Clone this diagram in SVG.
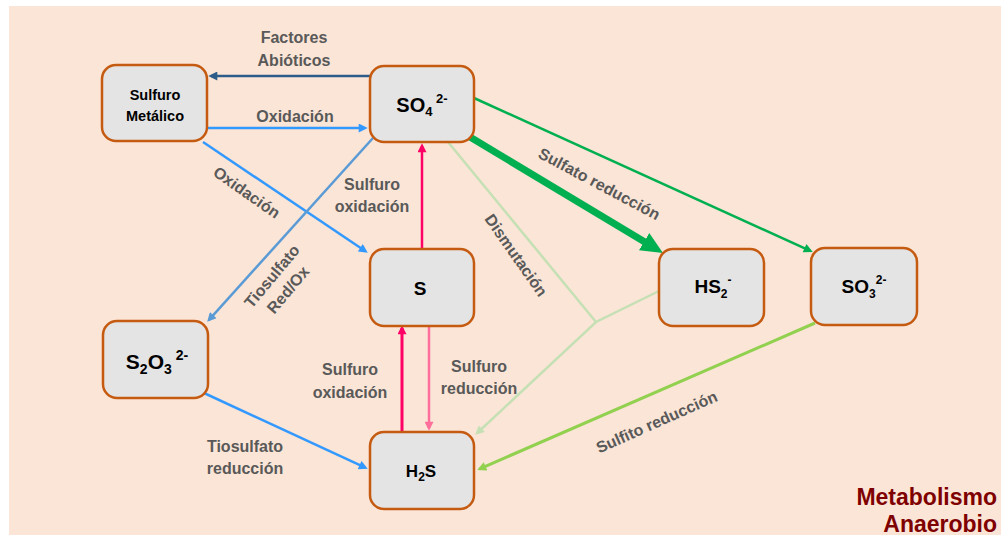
<svg xmlns="http://www.w3.org/2000/svg" width="1001" height="535" viewBox="0 0 1001 535">
  <style>
    .node rect { fill: #E4E4E4; stroke: #C55A11; stroke-width: 2.5; }
    .nt { font-family: "Liberation Sans", Arial, sans-serif; font-weight: bold; fill: #000; text-anchor: middle; }
    .lbl { font-family: "Liberation Sans", Arial, sans-serif; font-weight: bold; font-size: 16px; fill: #595959; text-anchor: middle; }
    .edge { fill: none; stroke-width: 2.5; }
    .edge.w3 { stroke-width: 3; }
    .edge.thick { stroke-width: 7; }
    .title { font-family: "Liberation Sans", Arial, sans-serif; font-weight: bold; font-size: 23px; fill: #7F0000; text-anchor: end; }
  </style>
  <defs>
    <marker id="ah-dblue" viewBox="0 0 10 10" refX="7" refY="5" markerUnits="userSpaceOnUse" markerWidth="10" markerHeight="9" orient="auto"><path d="M0,0 L10,5 L0,10 z" fill="#2E5C8A"/></marker>
    <marker id="ah-blue" viewBox="0 0 10 10" refX="7" refY="5" markerUnits="userSpaceOnUse" markerWidth="10" markerHeight="9" orient="auto"><path d="M0,0 L10,5 L0,10 z" fill="#3399FF"/></marker>
    <marker id="ah-steel" viewBox="0 0 10 10" refX="7" refY="5" markerUnits="userSpaceOnUse" markerWidth="10" markerHeight="9" orient="auto"><path d="M0,0 L10,5 L0,10 z" fill="#5B9BD5"/></marker>
    <marker id="ah-pink" viewBox="0 0 10 10" refX="7" refY="5" markerUnits="userSpaceOnUse" markerWidth="10" markerHeight="9" orient="auto"><path d="M0,0 L10,5 L0,10 z" fill="#FF0066"/></marker>
    <marker id="ah-lpink" viewBox="0 0 10 10" refX="7" refY="5" markerUnits="userSpaceOnUse" markerWidth="10" markerHeight="9" orient="auto"><path d="M0,0 L10,5 L0,10 z" fill="#FF6F9C"/></marker>
    <marker id="ah-green" viewBox="0 0 10 10" refX="7" refY="5" markerUnits="userSpaceOnUse" markerWidth="10" markerHeight="9" orient="auto"><path d="M0,0 L10,5 L0,10 z" fill="#00B050"/></marker>
    <marker id="ah-green-big" viewBox="0 0 22 20" refX="12" refY="10" markerUnits="userSpaceOnUse" markerWidth="22" markerHeight="20" orient="auto"><path d="M0,0 L22,10 L0,20 z" fill="#00B050"/></marker>
    <marker id="ah-lgreen" viewBox="0 0 10 10" refX="7" refY="5" markerUnits="userSpaceOnUse" markerWidth="10" markerHeight="9" orient="auto"><path d="M0,0 L10,5 L0,10 z" fill="#C5E0B4"/></marker>
    <marker id="ah-ygreen" viewBox="0 0 10 10" refX="7" refY="5" markerUnits="userSpaceOnUse" markerWidth="10" markerHeight="9" orient="auto"><path d="M0,0 L10,5 L0,10 z" fill="#92D050"/></marker>
  </defs>

  <!-- slide background -->
  <rect x="0" y="0" width="1001" height="535" fill="#FFFFFF"/>
  <rect x="9" y="6" width="992" height="529" fill="#FBE5D6"/>

  <!-- connectors -->
  <g id="connectors">
    <path class="edge" d="M370,76 L211,76" stroke="#2E5C8A" marker-end="url(#ah-dblue)"/>
    <path class="edge" d="M207,128 L365,128" stroke="#3399FF" marker-end="url(#ah-blue)"/>
    <path class="edge" d="M203,142 L365.5,251.3" stroke="#3399FF" marker-end="url(#ah-blue)"/>
    <path class="edge" d="M373,138 L209,319.8" stroke="#5B9BD5" marker-end="url(#ah-steel)"/>
    <path class="edge" d="M422,249 L422,146" stroke="#FF0066" marker-end="url(#ah-pink)"/>
    <path class="edge w3" d="M402,432 L402,328" stroke="#FF0066" marker-end="url(#ah-pink)"/>
    <path class="edge" d="M429,326 L429,428" stroke="#FF6F9C" marker-end="url(#ah-lpink)"/>
    <path class="edge" d="M204,393 L365.3,467.7" stroke="#3399FF" marker-end="url(#ah-blue)"/>
    <path class="edge thick" d="M470,137 L654.4,247.8" stroke="#00B050" marker-end="url(#ah-green-big)"/>
    <path class="edge" d="M474,98 L810.3,250.8" stroke="#00B050" marker-end="url(#ah-green)"/>
    <path class="edge" d="M448,142 L596,322 M659,291 L596,322 L477.2,433" stroke="#C5E0B4" marker-end="url(#ah-lgreen)"/>
    <path class="edge w3" d="M815,323 L479.7,468.8" stroke="#92D050" marker-end="url(#ah-ygreen)"/>
  </g>

  <!-- connector labels -->
  <g id="labels">
    <text class="lbl" x="294" y="43">Factores</text>
    <text class="lbl" x="294" y="66">Abióticos</text>
    <text class="lbl" x="295" y="122">Oxidación</text>
    <text class="lbl" transform="translate(247,192) rotate(35)" y="6">Oxidación</text>
    <text class="lbl" x="372" y="190">Sulfuro</text>
    <text class="lbl" x="372" y="212">oxidación</text>
    <g transform="translate(280,283) rotate(-50)">
      <text class="lbl" x="0" y="-5">Tiosulfato</text>
      <text class="lbl" x="0" y="16">Red/Ox</text>
    </g>
    <text class="lbl" transform="translate(516.5,255) rotate(55)" y="6">Dismutación</text>
    <text class="lbl" transform="translate(599.5,183.5) rotate(28)" y="6">Sulfato reducción</text>
    <text class="lbl" x="350" y="375">Sulfuro</text>
    <text class="lbl" x="350" y="398">oxidación</text>
    <text class="lbl" x="479" y="372">Sulfuro</text>
    <text class="lbl" x="479" y="394">reducción</text>
    <text class="lbl" x="245" y="452">Tiosulfato</text>
    <text class="lbl" x="245" y="474">reducción</text>
    <text class="lbl" transform="translate(656.5,421.5) rotate(-24)" y="6">Sulfito reducción</text>
  </g>

  <!-- nodes -->
  <g id="n-sulfuro-metalico" class="node">
    <rect x="102" y="65" width="105" height="76" rx="14"/>
    <text class="nt" x="155" y="100" font-size="14.5">Sulfuro</text>
    <text class="nt" x="155" y="121" font-size="14.5">Metálico</text>
  </g>
  <g id="n-so4" class="node">
    <rect x="370" y="66" width="104" height="76" rx="14"/>
    <text class="nt" x="422" y="112" font-size="20">SO<tspan font-size="13" dy="4">4</tspan><tspan font-size="13" dy="-13"> 2-</tspan></text>
  </g>
  <g id="n-s" class="node">
    <rect x="370" y="249" width="104" height="77" rx="14"/>
    <text class="nt" x="420" y="295" font-size="19">S</text>
  </g>
  <g id="n-s2o3" class="node">
    <rect x="103" y="321" width="105" height="77" rx="14"/>
    <text class="nt" x="157" y="369" font-size="21">S<tspan font-size="14" dy="5">2</tspan><tspan dy="-5">O</tspan><tspan font-size="14" dy="5">3</tspan><tspan font-size="14" dy="-14"> 2-</tspan></text>
  </g>
  <g id="n-h2s" class="node">
    <rect x="370" y="432" width="104" height="77" rx="14"/>
    <text class="nt" x="421" y="477" font-size="17">H<tspan font-size="12" dy="4">2</tspan><tspan dy="-4">S</tspan></text>
  </g>
  <g id="n-hs2" class="node">
    <rect x="659" y="249" width="105" height="77" rx="14"/>
    <text class="nt" x="713" y="293" font-size="19">HS<tspan font-size="12" dy="5">2</tspan><tspan font-size="12" dy="-14">-</tspan></text>
  </g>
  <g id="n-so3" class="node">
    <rect x="811" y="248" width="106" height="77" rx="14"/>
    <text class="nt" x="864" y="293" font-size="19">SO<tspan font-size="12" dy="5">3</tspan><tspan font-size="12" dy="-14">2-</tspan></text>
  </g>

  <!-- corner caption -->
  <g id="caption">
    <text class="title" x="997" y="505">Metabolismo</text>
    <text class="title" x="997" y="532">Anaerobio</text>
  </g>
</svg>
